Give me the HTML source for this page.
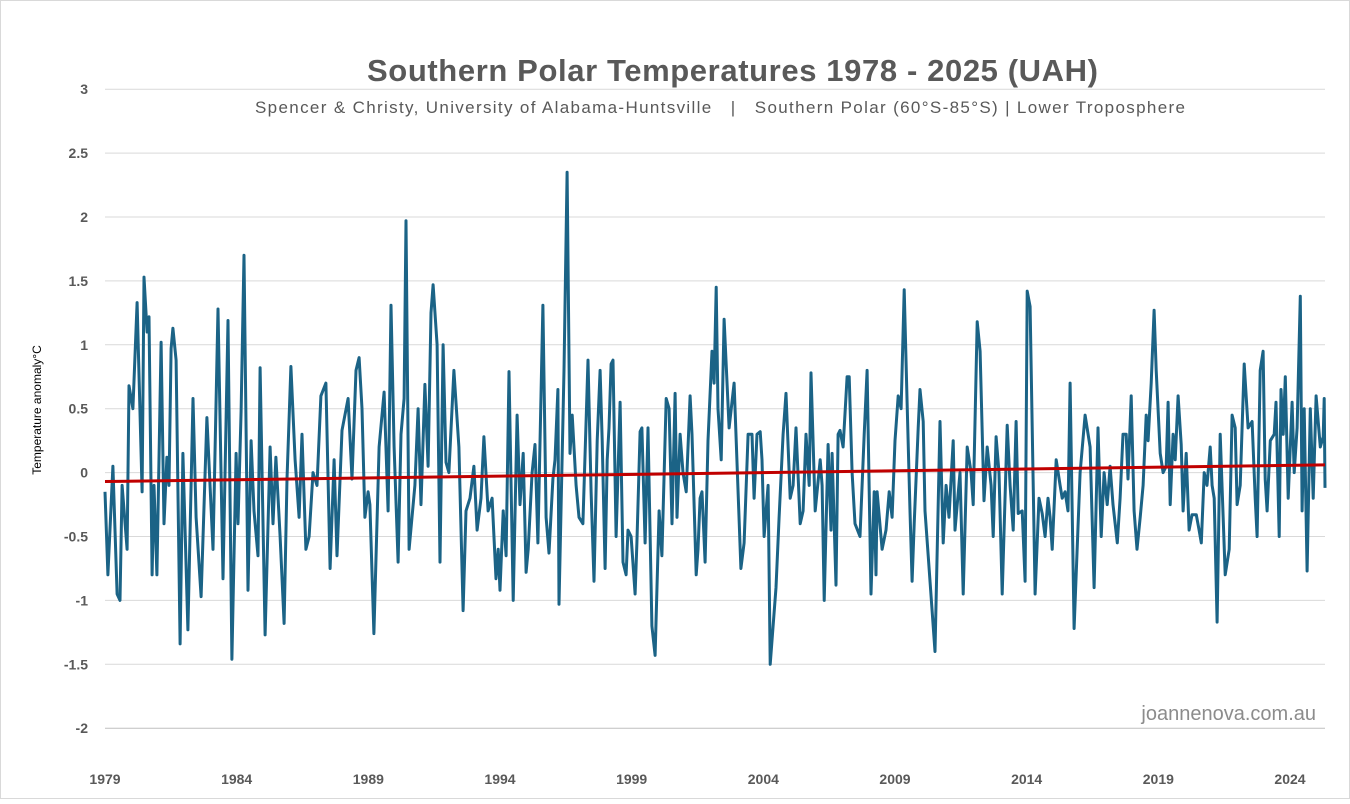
<!DOCTYPE html>
<html><head><meta charset="utf-8"><style>
body{margin:0;background:#fff;}
svg text{font-family:"Liberation Sans",sans-serif;}
</style></head><body>
<svg width="1350" height="799" xmlns="http://www.w3.org/2000/svg">
<rect x="0.5" y="0.5" width="1349" height="798" fill="#fff" stroke="#d9d9d9"/>
<text x="367" y="81" textLength="731" lengthAdjust="spacing" font-size="31" font-weight="bold" fill="#595959">Southern Polar Temperatures 1978 - 2025 (UAH)</text>
<text x="255" y="113" textLength="930" lengthAdjust="spacing" font-size="17" fill="#595959" xml:space="preserve">Spencer &amp; Christy, University of Alabama-Huntsville   |   Southern Polar (60°S-85°S) | Lower Troposphere</text>
<text transform="translate(41,410) rotate(-90)" text-anchor="middle" font-size="12" fill="#000">Temperature anomaly°C</text>
<text x="1316" y="720" text-anchor="end" font-size="20" fill="#8c8c8c">joannenova.com.au</text>
<g id="grid"></g><g id="yt"></g><g id="xt"></g><g id="series"></g>
</svg>
<script>
const yTicks=[3,2.5,2,1.5,1,0.5,0,-0.5,-1,-1.5,-2];
const yTickLabels=["3","2.5","2","1.5","1","0.5","0","-0.5","-1","-1.5","-2"];
const xTickYears=[1979,1984,1989,1994,1999,2004,2009,2014,2019,2024];
const yearsSince1979=[0,.11,.30,.46,.57,.65,.84,.91,1.06,1.22,1.41,1.48,1.60,1.67,1.79,1.86,1.97,2.13,2.24,2.35,2.43,2.51,2.58,2.70,2.85,2.96,3.15,3.34,3.46,3.65,3.87,4.10,4.29,4.48,4.67,4.82,4.98,5.05,5.17,5.28,5.43,5.55,5.66,5.81,5.89,6.08,6.27,6.38,6.49,6.65,6.80,6.91,7.06,7.22,7.37,7.48,7.63,7.75,7.90,8.05,8.20,8.39,8.55,8.70,8.81,9.00,9.23,9.38,9.53,9.65,9.76,9.87,9.99,10.06,10.21,10.41,10.60,10.75,10.86,10.98,11.13,11.24,11.36,11.43,11.55,11.66,11.77,11.89,12.00,12.15,12.27,12.38,12.46,12.61,12.72,12.84,12.95,13.06,13.25,13.44,13.60,13.71,13.86,14.01,14.13,14.28,14.39,14.55,14.70,14.85,14.93,15.00,15.12,15.23,15.34,15.50,15.65,15.76,15.88,15.99,16.07,16.22,16.33,16.44,16.63,16.75,16.86,17.01,17.09,17.20,17.24,17.43,17.55,17.66,17.74,17.89,18.00,18.15,18.34,18.46,18.57,18.69,18.80,18.88,18.99,19.07,19.14,19.22,19.29,19.41,19.56,19.67,19.79,19.86,19.98,20.13,20.20,20.32,20.39,20.51,20.62,20.77,20.89,21.04,21.15,21.31,21.42,21.53,21.65,21.72,21.84,21.95,22.07,22.22,22.29,22.45,22.52,22.60,22.67,22.79,22.90,23.05,23.13,23.21,23.28,23.40,23.51,23.70,23.89,24.15,24.27,24.42,24.57,24.65,24.76,24.88,24.95,25.03,25.18,25.26,25.48,25.60,25.75,25.86,26.02,26.13,26.24,26.40,26.51,26.62,26.74,26.81,26.97,27.16,27.23,27.31,27.46,27.57,27.61,27.76,27.84,27.91,28.03,28.18,28.26,28.37,28.48,28.67,28.83,28.94,29.09,29.21,29.28,29.32,29.51,29.66,29.78,29.89,30.00,30.12,30.23,30.35,30.46,30.57,30.65,30.73,30.88,30.95,31.07,31.14,31.26,31.52,31.71,31.83,31.94,32.05,32.21,32.28,32.47,32.59,32.74,32.89,32.97,33.12,33.23,33.38,33.50,33.65,33.73,33.84,33.95,34.07,34.26,34.37,34.49,34.60,34.68,34.83,34.94,35.02,35.13,35.32,35.47,35.59,35.70,35.81,35.89,35.97,36.12,36.27,36.35,36.46,36.57,36.65,36.80,37.03,37.22,37.41,37.56,37.71,37.83,37.94,38.06,38.17,38.28,38.44,38.55,38.66,38.78,38.85,38.97,39.08,39.19,39.31,39.42,39.54,39.61,39.73,39.84,39.92,40.07,40.18,40.30,40.37,40.45,40.56,40.64,40.75,40.87,40.94,41.06,41.17,41.28,41.44,41.55,41.63,41.74,41.85,41.97,42.04,42.12,42.23,42.35,42.54,42.69,42.80,42.92,42.99,43.11,43.26,43.41,43.56,43.68,43.75,43.87,43.98,44.06,44.13,44.25,44.40,44.47,44.59,44.66,44.74,44.82,44.93,45.08,45.16,45.27,45.39,45.46,45.54,45.65,45.77,45.88,45.99,46.15,46.26,46.30,46.33];
const anomalies=[-0.15,-0.8,0.05,-0.95,-1.0,-0.1,-0.6,0.68,0.5,1.33,-0.15,1.53,1.1,1.22,-0.8,-0.1,-0.8,1.02,-0.4,0.12,-0.1,0.97,1.13,0.88,-1.34,0.15,-1.23,0.58,-0.35,-0.97,0.43,-0.6,1.28,-0.83,1.19,-1.46,0.15,-0.4,0.48,1.7,-0.92,0.25,-0.3,-0.65,0.82,-1.27,0.2,-0.4,0.12,-0.5,-1.18,-0.05,0.83,0.1,-0.35,0.3,-0.6,-0.5,0.0,-0.1,0.6,0.7,-0.75,0.1,-0.65,0.33,0.58,-0.05,0.8,0.9,0.5,-0.35,-0.15,-0.25,-1.26,0.2,0.63,-0.3,1.31,0.2,-0.7,0.3,0.58,1.97,-0.6,-0.35,-0.1,0.5,-0.25,0.69,0.05,1.25,1.47,1.0,-0.7,1.0,0.08,0.0,0.8,0.2,-1.08,-0.3,-0.2,0.05,-0.45,-0.2,0.28,-0.3,-0.2,-0.83,-0.6,-0.92,-0.3,-0.65,0.79,-1.0,0.45,-0.25,0.15,-0.78,-0.6,0.0,0.22,-0.55,1.31,-0.35,-0.63,-0.05,0.1,0.65,-1.03,0.8,2.35,0.15,0.45,-0.1,-0.35,-0.4,0.88,-0.15,-0.85,0.25,0.8,0.25,-0.75,0.1,0.35,0.85,0.88,-0.5,0.55,-0.7,-0.8,-0.45,-0.5,-0.95,-0.55,0.32,0.35,-0.55,0.35,-1.2,-1.43,-0.3,-0.65,0.58,0.5,-0.4,0.62,-0.35,0.3,0.0,-0.15,0.6,0.3,-0.8,-0.6,-0.2,-0.15,-0.7,0.25,0.95,0.7,1.45,0.5,0.1,1.2,0.35,0.7,-0.75,-0.55,0.3,0.3,-0.2,0.3,0.32,0.1,-0.5,-0.1,-1.5,-0.9,-0.35,0.3,0.62,-0.2,-0.1,0.35,-0.4,-0.3,0.3,-0.1,0.78,-0.3,0.1,-0.1,-1.0,0.22,-0.45,0.15,-0.88,0.3,0.33,0.2,0.75,0.75,0.0,-0.4,-0.5,0.3,0.8,-0.95,-0.15,-0.8,-0.15,-0.6,-0.45,-0.15,-0.35,0.25,0.6,0.5,1.43,0.55,-0.3,-0.85,-0.4,0.35,0.65,0.4,-0.3,-0.65,-1.4,0.4,-0.55,-0.1,-0.35,0.25,-0.45,0.0,-0.95,0.2,0.0,-0.25,1.18,0.95,-0.22,0.2,-0.1,-0.5,0.28,0.0,-0.95,0.37,-0.1,-0.45,0.4,-0.32,-0.3,-0.85,1.42,1.3,-0.95,-0.2,-0.32,-0.5,-0.2,-0.35,-0.6,0.1,-0.1,-0.2,-0.15,-0.3,0.7,-1.22,0.0,0.45,0.2,-0.9,0.35,-0.5,0.0,-0.25,0.05,-0.25,-0.55,-0.2,0.3,0.3,-0.05,0.6,-0.3,-0.6,-0.35,-0.1,0.45,0.25,0.7,1.27,0.8,0.15,0.0,0.05,0.55,-0.25,0.3,0.1,0.6,0.22,-0.3,0.15,-0.45,-0.33,-0.33,-0.45,-0.55,0.0,-0.1,0.2,-0.1,-0.2,-1.17,0.3,-0.8,-0.6,0.45,0.35,-0.25,-0.1,0.85,0.35,0.4,-0.2,-0.5,0.8,0.95,-0.05,-0.3,0.25,0.3,0.55,-0.5,0.65,0.3,0.75,-0.2,0.55,0.0,0.35,1.38,-0.3,0.5,-0.77,0.5,-0.2,0.6,0.2,0.28,0.58,-0.12];
const trendStart=-0.07, trendEnd=0.06;
const NS="http://www.w3.org/2000/svg";
const X0=105,X1=1325,PX_PER_YEAR=(1290-105)/45;
const xScale=t=>X0+t*PX_PER_YEAR;
const yScale=v=>472.6-v*127.8;
const tEnd=(X1-X0)/PX_PER_YEAR;
function mk(tag,attrs,parent){const e=document.createElementNS(NS,tag);for(const k in attrs)e.setAttribute(k,attrs[k]);parent.appendChild(e);return e;}
const grid=document.getElementById('grid'),yt=document.getElementById('yt'),xt=document.getElementById('xt'),ser=document.getElementById('series');
yTicks.forEach((v,i)=>{
  const l=mk('line',{x1:X0,x2:X1,y1:yScale(v),y2:yScale(v),stroke:v===-2?'#bfbfbf':'#d9d9d9','stroke-width':1},grid);
  
  
  const t=mk('text',{x:88,y:yScale(v)+5,'text-anchor':'end','font-size':14,'font-weight':'bold',fill:'#595959'},yt);
  t.textContent=yTickLabels[i];
  
  
});
xTickYears.forEach(yr=>{
  const t=mk('text',{x:xScale(yr-1979),y:784,'text-anchor':'middle','font-size':14,'font-weight':'bold',fill:'#595959'},xt);
  t.textContent=String(yr);
  
  
});
const pts=anomalies.map((v,i)=>xScale(yearsSince1979[i]).toFixed(1)+','+yScale(v).toFixed(1)).join(' ');
const pl=mk('polyline',{points:pts,fill:'none',stroke:'#1b6386','stroke-width':3,'stroke-linejoin':'round'},ser);


const tr=mk('line',{x1:xScale(0),y1:yScale(trendStart),x2:xScale(tEnd),y2:yScale(trendEnd),stroke:'#c00000','stroke-width':3},ser);


</script>
</body></html>
